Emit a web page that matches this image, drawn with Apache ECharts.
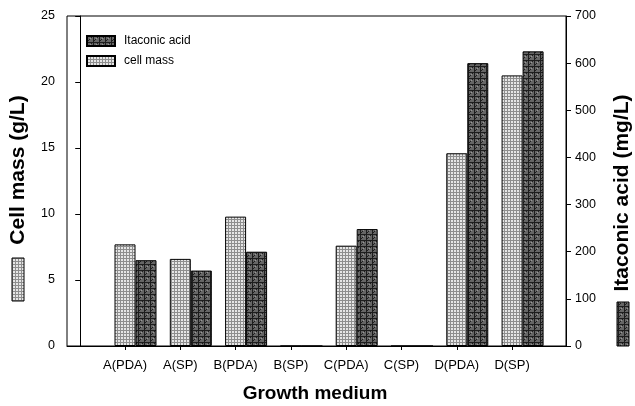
<!DOCTYPE html>
<html><head><meta charset="utf-8">
<script src="https://cdn.jsdelivr.net/npm/echarts@6/dist/echarts.min.js"></script>
<style>html,body{margin:0;padding:0;background:#fff}#c{width:635px;height:406px}</style>
</head><body><div id="c"></div>
<script>
const categories = ['A(PDA)','A(SP)','B(PDA)','B(SP)','C(PDA)','C(SP)','D(PDA)','D(SP)'];
const cellMass = [7.7, 6.6, 9.8, 0, 7.6, 0, 14.6, 20.5];
const itaconicAcid = [182, 160, 200, 0, 248, 0, 600, 625];
const leftTicks = [0, 25, 5];
const rightTicks = [0, 700, 100];

function makePattern(type){
  const c = document.createElement('canvas');
  if(type==='light'){
    c.width=3;c.height=3;
    const g=c.getContext('2d');
    g.fillStyle='#e6e6e6';g.fillRect(0,0,3,3);
    g.fillStyle='#8e8e8e';g.fillRect(0,0,3,1);g.fillRect(0,0,1,3);
  } else {
    c.width=6;c.height=6;
    const g=c.getContext('2d');
    g.fillStyle='#666';g.fillRect(0,0,6,6);
    g.fillStyle='#1e1e1e';
    g.fillRect(0,0,6,1);g.fillRect(0,0,1,6);
    for(let i=0;i<6;i++){g.fillRect(i,5-i,1,1);}
    g.fillStyle='#999';g.fillRect(3,2,1,1);
  }
  return {image:c, repeat:'repeat'};
}
const lightPat = makePattern('light');
const darkPat = makePattern('dark');

const chart = echarts.init(document.getElementById('c'), null, {renderer:'canvas'});
const font = 'Liberation Sans, Arial, sans-serif';
chart.setOption({
  animation:false,
  textStyle:{fontFamily:font},
  grid:[
    {left:67, right:69, top:16, bottom:60, show:true, borderColor:'#000', borderWidth:1},
    {left:97.35, width:442.4, top:16, bottom:60}
  ],
  legend:{
    orient:'vertical', left:81, top:30, itemWidth:28, itemHeight:10, itemGap:8,
    icon:'rect',
    data:['Itaconic acid','cell mass'],
    textStyle:{fontSize:12, color:'#000', fontFamily:font, padding:[0,0,0,4]}
  },
  xAxis:[
    {type:'value', gridIndex:0, min:-0.239, max:8.785, axisLine:{show:true, lineStyle:{color:'#000'}},
     axisTick:{show:false}, axisLabel:{show:false}, splitLine:{show:false}},
    {type:'category', gridIndex:1, data:categories, axisLine:{show:false},
     axisTick:{show:true, alignWithLabel:true, interval:0, length:4, lineStyle:{color:'#000'}},
     axisLabel:{fontSize:13, color:'#000', margin:13, interval:0, hideOverlap:false, fontFamily:font}}
  ],
  yAxis:[
    {type:'value', gridIndex:0, position:'left', min:leftTicks[0], max:leftTicks[1], interval:leftTicks[2],
     axisLine:{show:true, lineStyle:{color:'#000'}}, axisTick:{show:true, length:5, lineStyle:{color:'#000'}},
     axisLabel:{fontSize:12.5, color:'#000', margin:12, fontFamily:font}, splitLine:{show:false}},
    {type:'value', gridIndex:0, position:'right', min:rightTicks[0], max:rightTicks[1], interval:rightTicks[2],
     axisLine:{show:true, lineStyle:{color:'#000'}}, axisTick:{show:true, length:5, lineStyle:{color:'#000'}},
     axisLabel:{fontSize:12.5, color:'#000', margin:9, fontFamily:font}, splitLine:{show:false}},
    {type:'value', gridIndex:1, show:false}
  ],
  series:[
    {name:'cell mass', type:'bar', xAxisIndex:0, yAxisIndex:0, barWidth:21, barGap:'0%',
     data:cellMass.map((v,i)=>[i+1,v]),
     itemStyle:{color:lightPat, borderColor:'#000', borderWidth:1}},
    {name:'Itaconic acid', type:'bar', xAxisIndex:0, yAxisIndex:1, barWidth:21, barGap:'0%',
     data:itaconicAcid.map((v,i)=>[i+1,v]),
     itemStyle:{color:darkPat, borderColor:'#000', borderWidth:1}}
  ],
  graphic:[
    {type:'text', x:18, y:170, rotation:Math.PI/2,
     style:{text:'Cell mass (g/L)', font:'bold 21px '+font, fill:'#000', align:'center', verticalAlign:'middle'}},
    {type:'rect', shape:{x:12, y:258, width:12, height:43}, style:{fill:lightPat, stroke:'#000', lineWidth:1}},
    {type:'text', x:622, y:193, rotation:Math.PI/2,
     style:{text:'Itaconic acid (mg/L)', font:'bold 21px '+font, fill:'#000', align:'center', verticalAlign:'middle'}},
    {type:'rect', shape:{x:617, y:302, width:12, height:44}, style:{fill:darkPat, stroke:'#000', lineWidth:1}},
    {type:'text', x:315, y:394,
     style:{text:'Growth medium', font:'bold 19px '+font, fill:'#000', align:'center', verticalAlign:'middle'}}
  ]
});
</script></body></html>
